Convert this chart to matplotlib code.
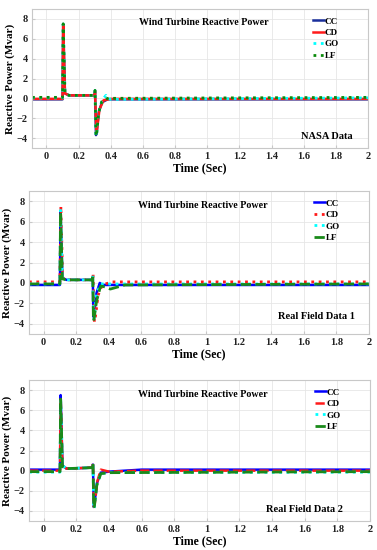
import matplotlib

matplotlib.use("Agg")
import matplotlib.pyplot as plt

plt.rcParams["font.family"] = ["Liberation Serif", "DejaVu Serif"]
plt.rcParams["font.weight"] = "bold"

# ---- data ----
# Panel 1: NASA Data
nasa_cc_t = [-0.09, 0.1, 0.104, 0.115, 0.14, 0.3, 0.302, 0.308, 0.312, 0.325, 0.345, 0.38, 2.0]
nasa_cc_q = [-0.1, -0.1, 7.4, 0.5, 0.3, 0.3, 0.7, -3.7, -3.5, -1.4, -0.4, -0.1, -0.1]
nasa_cd_t = [-0.09, 0.1, 0.104, 0.115, 0.14, 0.3, 0.302, 0.31, 0.314, 0.33, 0.355, 0.4, 2.0]
nasa_cd_q = [-0.05, -0.05, 7.5, 0.5, 0.3, 0.3, 0.8, -3.4, -3.2, -1.1, -0.2, -0.05, -0.05]
nasa_go_t = [-0.09, 0.1, 0.104, 0.115, 0.14, 0.3, 0.302, 0.308, 0.312, 0.325, 0.345, 0.37, 0.38, 0.4, 2.0]
nasa_go_q = [0.05, 0.05, 7.5, 0.6, 0.3, 0.3, 0.8, -3.8, -3.6, -1.4, -0.2, 0.3, 0.0, -0.1, 0.05]
nasa_lf_t = [-0.09, 0.1, 0.104, 0.115, 0.14, 0.3, 0.302, 0.308, 0.312, 0.325, 0.345, 0.38, 2.0]
nasa_lf_q = [0.1, 0.1, 7.5, 0.5, 0.3, 0.3, 0.8, -3.8, -3.6, -1.4, -0.3, 0.0, 0.1]

# Panel 2: Real Field Data 1
rf1_cc_t = [-0.09, 0.1, 0.104, 0.115, 0.14, 0.3, 0.302, 0.306, 0.31, 0.325, 0.345, 0.36, 0.4, 2.0]
rf1_cc_q = [-0.2, -0.2, 7.0, 0.5, 0.3, 0.3, 0.6, -3.3, -3.1, -1.0, 0.0, -0.2, -0.2, -0.2]
rf1_cd_t = [-0.09, 0.1, 0.106, 0.117, 0.14, 0.3, 0.304, 0.312, 0.316, 0.335, 0.36, 0.42, 2.0]
rf1_cd_q = [0.1, 0.1, 7.5, 0.5, 0.3, 0.3, 0.8, -3.8, -3.6, -1.2, -0.2, 0.1, 0.1]
rf1_go_t = [-0.09, 0.1, 0.104, 0.115, 0.14, 0.3, 0.302, 0.307, 0.311, 0.325, 0.35, 0.4, 2.0]
rf1_go_q = [-0.1, -0.1, 7.1, 0.6, 0.3, 0.3, 0.7, -3.6, -3.4, -1.1, -0.1, -0.1, -0.1]
rf1_lf_t = [-0.09, 0.1, 0.104, 0.115, 0.14, 0.3, 0.302, 0.306, 0.31, 0.325, 0.35, 0.38, 0.41, 0.5, 2.0]
rf1_lf_q = [-0.1, -0.1, 6.9, 0.4, 0.3, 0.3, 0.8, -3.7, -3.5, -1.8, -0.3, -0.4, -0.6, -0.2, -0.1]

# Panel 3: Real Field Data 2
rf2_cc_t = [-0.09, 0.1, 0.104, 0.115, 0.14, 0.3, 0.302, 0.307, 0.311, 0.325, 0.35, 0.4, 0.6, 2.0]
rf2_cc_q = [0.1, 0.1, 7.5, 0.5, 0.2, 0.3, 0.6, -3.6, -3.4, -1.3, -0.2, -0.1, 0.1, 0.1]
rf2_cd_t = [-0.09, 0.1, 0.104, 0.115, 0.14, 0.3, 0.302, 0.308, 0.312, 0.33, 0.35, 0.4, 0.6, 2.0]
rf2_cd_q = [0.0, 0.0, 7.3, 0.5, 0.2, 0.3, 0.8, -3.6, -3.4, -1.0, 0.1, -0.1, 0.0, 0.0]
rf2_go_t = [-0.09, 0.1, 0.104, 0.115, 0.14, 0.3, 0.302, 0.307, 0.311, 0.325, 0.35, 0.4, 2.0]
rf2_go_q = [-0.15, -0.15, 7.0, 0.5, 0.2, 0.3, 0.7, -3.8, -3.6, -1.4, -0.3, -0.2, -0.15]
rf2_lf_t = [-0.09, 0.1, 0.104, 0.115, 0.14, 0.3, 0.302, 0.307, 0.311, 0.325, 0.35, 0.4, 2.0]
rf2_lf_q = [-0.1, -0.1, 7.1, 0.4, 0.2, 0.3, 0.7, -3.7, -3.5, -1.5, -0.3, -0.2, -0.1]

series_labels = ["CC", "CD", "GO", "LF"]
x_ticks = [0, 0.2, 0.4, 0.6, 0.8, 1, 1.2, 1.4, 1.6, 1.8, 2]
x_tick_labels = ["0", "0.2", "0.4", "0.6", "0.8", "1", "1.2", "1.4", "1.6", "1.8", "2"]
y_ticks = [-4, -2, 0, 2, 4, 6, 8]

PANELS = [
    {
        "box": [32, 9, 368, 148],
        "data": [(nasa_cc_t, nasa_cc_q), (nasa_cd_t, nasa_cd_q),
                 (nasa_go_t, nasa_go_q), (nasa_lf_t, nasa_lf_q)],
        "styles": [
            dict(color="#1a2f9c", linestyle="-", linewidth=1.8),
            dict(color="#ff1a1a", linestyle="-", linewidth=1.8),
            dict(color="#00ffff", linestyle=":", linewidth=2.0),
            dict(color="#0a8a0a", linestyle=":", linewidth=2.0),
        ],
        "note": "NASA Data",
        "note_xy": (0.955, 0.08),
    },
    {
        "box": [29, 191, 369, 334],
        "data": [(rf1_cc_t, rf1_cc_q), (rf1_cd_t, rf1_cd_q),
                 (rf1_go_t, rf1_go_q), (rf1_lf_t, rf1_lf_q)],
        "styles": [
            dict(color="#0000ff", linestyle="-", linewidth=1.8),
            dict(color="#ff1a1a", linestyle=":", linewidth=2.0),
            dict(color="#00ffff", linestyle=":", linewidth=2.0),
            dict(color="#1a8a1a", linestyle="--", linewidth=2.0),
        ],
        "note": "Real Field Data 1",
        "note_xy": (0.96, 0.12),
    },
    {
        "box": [29, 380, 370, 521],
        "data": [(rf2_cc_t, rf2_cc_q), (rf2_cd_t, rf2_cd_q),
                 (rf2_go_t, rf2_go_q), (rf2_lf_t, rf2_lf_q)],
        "styles": [
            dict(color="#0000ff", linestyle="-", linewidth=1.8),
            dict(color="#ff1a1a", linestyle="--", linewidth=1.8),
            dict(color="#00ffff", linestyle=":", linewidth=2.0),
            dict(color="#1a8a1a", linestyle="--", linewidth=2.0),
        ],
        "note": "Real Field Data 2",
        "note_xy": (0.92, 0.085),
    },
]

W, H = 377, 550
YLABEL_GAP = 22  # pixels from the left spine to the y label centre

fig = plt.figure(figsize=(W / 100, H / 100), dpi=100)
fig.patch.set_facecolor("white")

for panel in PANELS:
    x0, y0, x1, y1 = panel["box"]
    ax = fig.add_axes([x0 / W, 1 - y1 / H, (x1 - x0) / W, (y1 - y0) / H])

    for (t, q), label, style in zip(panel["data"], series_labels, panel["styles"]):
        ax.plot(t, q, label=label, **style)

    ax.set_xlim(-0.09, 2)
    ax.set_ylim(-5, 9)
    ax.set_xticks(x_ticks)
    ax.set_xticklabels(x_tick_labels)
    ax.set_yticks(y_ticks)
    ax.grid(True, color="#e6e6e6", linewidth=0.6)
    ax.set_axisbelow(True)
    for spine in ax.spines.values():
        spine.set_color("#c8c8c8")
        spine.set_linewidth(0.8)
    ax.tick_params(direction="in", length=2, color="#c8c8c8", labelsize=7.5,
                   labelcolor="#222222", pad=3)

    ax.set_xlabel("Time (Sec)", fontsize=8.5, fontweight="bold", labelpad=1)
    ax.set_ylabel("Reactive Power (Mvar)", fontsize=8.0, fontweight="bold",
                  va="center")
    ax.yaxis.set_label_coords(-YLABEL_GAP / (x1 - x0), 0.5)

    ax.text(0.51, 0.9, "Wind Turbine Reactive Power", transform=ax.transAxes,
            ha="center", va="center", fontsize=7.2, fontweight="bold")
    nx, ny = panel["note_xy"]
    ax.text(nx, ny, panel["note"], transform=ax.transAxes,
            ha="right", va="center", fontsize=7.5, fontweight="bold")

    ax.legend(loc="upper right", bbox_to_anchor=(0.93, 0.98), frameon=False,
              fontsize=6.5, handlelength=1.2, handletextpad=0.1,
              labelspacing=0.35, borderaxespad=0.2)

fig.savefig("out.png", dpi=100, facecolor="white")
